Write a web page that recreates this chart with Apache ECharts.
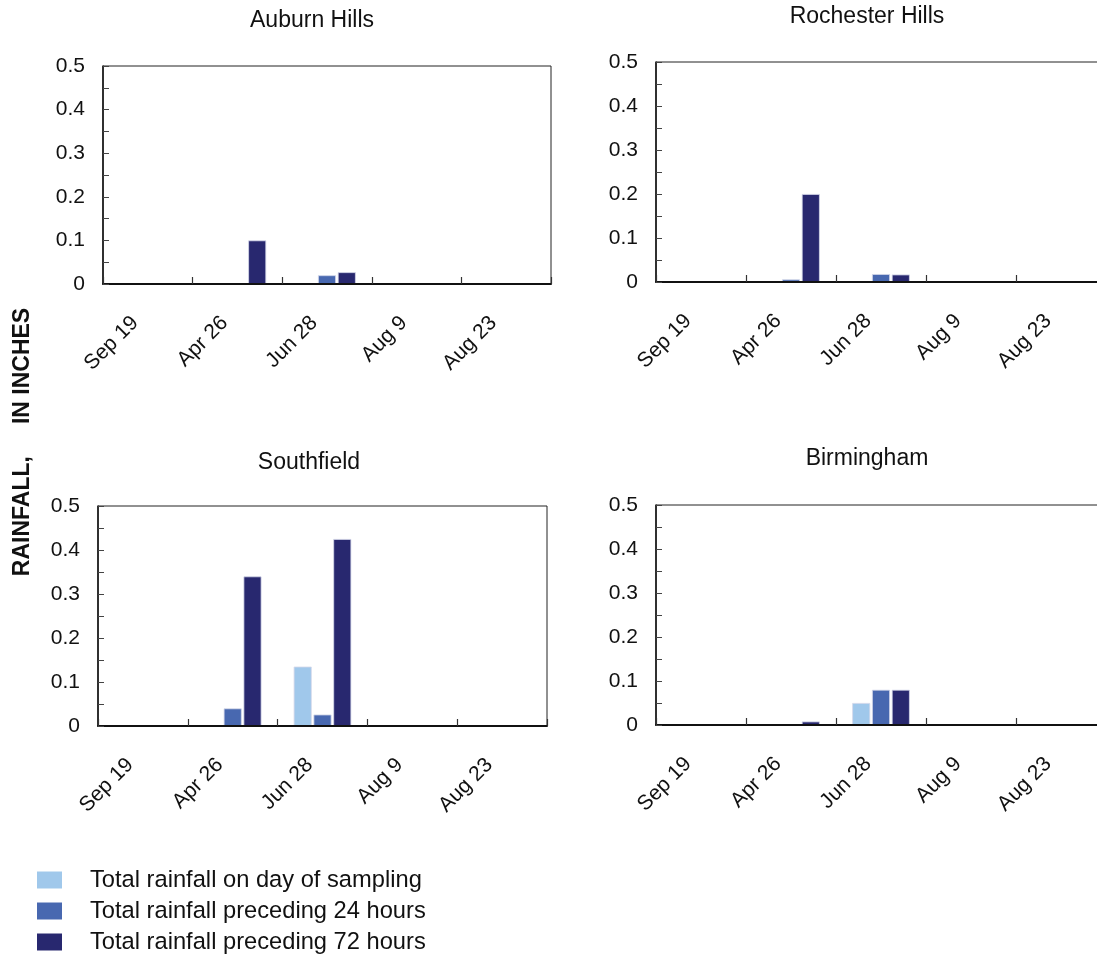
<!DOCTYPE html>
<html>
<head>
<meta charset="utf-8">
<script src="https://cdn.jsdelivr.net/npm/echarts@6/dist/echarts.min.js"></script>
<style>
  html, body { margin: 0; padding: 0; background: #fff; }
  #chart { width: 1097px; height: 955px; }
</style>
</head>
<body>
<div id="chart"></div>
<script>
// Sampling dates shared by every site
const categories = ['Sep 19', 'Apr 26', 'Jun 28', 'Aug 9', 'Aug 23'];

// Rainfall in inches, per site: day of sampling / preceding 24 h / preceding 72 h
const auburnDay = [0, 0, 0, 0, 0];
const auburn24 = [0, 0, 0.02, 0, 0];
const auburn72 = [0, 0.1, 0.027, 0, 0];

const rochesterDay = [0, 0, 0, 0, 0];
const rochester24 = [0, 0.006, 0.018, 0, 0];
const rochester72 = [0, 0.2, 0.017, 0, 0];

const southfieldDay = [0, 0, 0.135, 0, 0];
const southfield24 = [0, 0.04, 0.026, 0, 0];
const southfield72 = [0, 0.34, 0.425, 0, 0];

const birminghamDay = [0, 0, 0.05, 0, 0];
const birmingham24 = [0, 0, 0.08, 0, 0];
const birmingham72 = [0, 0.008, 0.08, 0, 0];

const seriesNames = [
  'Total rainfall on day of sampling',
  'Total rainfall preceding 24 hours',
  'Total rainfall preceding 72 hours'
];
const seriesColors = ['#a0c8eb', '#4868b0', '#28286f'];

const FONT = '"Liberation Sans", Arial, sans-serif';

const panels = [
  { name: 'Auburn Hills',    data: [auburnDay, auburn24, auburn72],
    grid: { left: 103, top: 66, width: 448, height: 218 }, title: [312, 21] },
  { name: 'Rochester Hills', data: [rochesterDay, rochester24, rochester72],
    grid: { left: 656, top: 62, width: 450, height: 220 }, title: [867, 17] },
  { name: 'Southfield',      data: [southfieldDay, southfield24, southfield72],
    grid: { left: 98, top: 506, width: 449, height: 220 }, title: [309, 463] },
  { name: 'Birmingham',      data: [birminghamDay, birmingham24, birmingham72],
    grid: { left: 656, top: 505, width: 450, height: 220 }, title: [867, 459] }
];

const grids = [], xAxes = [], yAxes = [], series = [], graphics = [];

panels.forEach((p, i) => {
  grids.push(Object.assign({
    show: true,
    borderColor: '#222',
    borderWidth: 1,
    backgroundColor: '#fff',
    containLabel: false,
    outerBoundsMode: 'none'
  }, p.grid));

  // axis drawn above the bars so empty (zero) bars leave the baseline clean
  xAxes.push({
    type: 'category',
    gridIndex: i,
    z: 5,
    data: categories,
    boundaryGap: true,
    axisLine: { show: true, lineStyle: { color: '#111', width: 2 } },
    axisTick: { show: true, inside: true, length: 7, alignWithLabel: false,
                lineStyle: { color: '#333', width: 1.2 } },
    axisLabel: { rotate: 45, margin: 23, color: '#111', fontSize: 21,
                 fontFamily: FONT, interval: 0, padding: [0, 18, 0, 0] },
    splitLine: { show: false }
  });

  yAxes.push({
    type: 'value',
    gridIndex: i,
    z: 5,
    min: 0,
    max: 0.5,
    interval: 0.05,
    axisLine: { show: true, lineStyle: { color: '#111', width: 1.5 } },
    axisTick: { show: true, inside: true, length: 6,
                lineStyle: { color: '#444', width: 1 } },
    axisLabel: {
      margin: 18, color: '#111', fontSize: 21, fontFamily: FONT,
      formatter: v => {
        const k = Math.round(v * 100);
        return k % 10 === 0 ? String(k / 100) : '';
      }
    },
    splitLine: { show: false }
  });

  p.data.forEach((vals, s) => {
    series.push({
      name: seriesNames[s],
      type: 'bar',
      xAxisIndex: i,
      yAxisIndex: i,
      data: vals,
      barWidth: 18,
      barGap: '10%',
      itemStyle: { color: seriesColors[s], borderColor: '#d4d8ea', borderWidth: 0.8 },
      emphasis: { disabled: true },
      animation: false
    });
  });

  graphics.push({
    type: 'text',
    x: p.title[0],
    y: p.title[1],
    style: {
      text: p.name,
      fill: '#111',
      fontSize: 23,
      fontFamily: FONT,
      align: 'center',
      verticalAlign: 'middle'
    }
  });
});

// Shared vertical axis title
graphics.push({
  type: 'text',
  x: 23,
  y: 442,
  rotation: Math.PI / 2,
  style: {
    text: 'RAINFALL,     IN INCHES',
    fill: '#111',
    fontSize: 23,
    fontWeight: 'bold',
    fontFamily: FONT,
    align: 'center',
    verticalAlign: 'middle'
  }
});

const chart = echarts.init(document.getElementById('chart'), null, { renderer: 'canvas' });
chart.setOption({
  animation: false,
  backgroundColor: '#fff',
  grid: grids,
  xAxis: xAxes,
  yAxis: yAxes,
  series: series,
  graphic: graphics,
  legend: {
    data: seriesNames,
    orient: 'vertical',
    left: 37,
    top: 868,
    padding: 0,
    itemWidth: 25,
    itemHeight: 17,
    itemGap: 7,
    icon: 'rect',
    selectedMode: false,
    itemStyle: { borderWidth: 0 },
    textStyle: { color: '#111', fontSize: 23.7, fontFamily: FONT, padding: [0, 0, 0, 23] }
  }
});
</script>
</body>
</html>
